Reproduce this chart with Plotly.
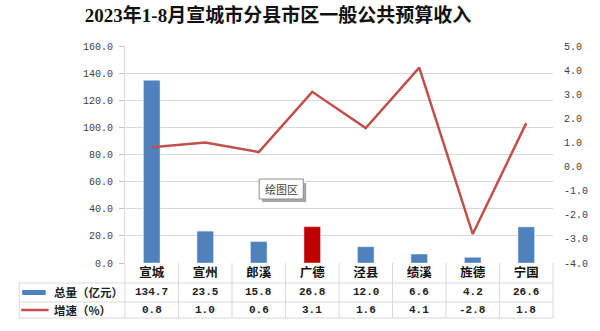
import plotly.graph_objects as go

categories = ["宣城", "宣州", "郎溪", "广德", "泾县", "绩溪", "旌德", "宁国"]
totals = [134.7, 23.5, 15.8, 26.8, 12.0, 6.6, 4.2, 26.6]
growth = [0.8, 1.0, 0.6, 3.1, 1.6, 4.1, -2.8, 1.8]
bar_colors = ["#4F81BD", "#4F81BD", "#4F81BD", "#C00000", "#4F81BD", "#4F81BD", "#4F81BD", "#4F81BD"]
left_ticks = [0, 20, 40, 60, 80, 100, 120, 140, 160]
right_ticks = [-4, -3, -2, -1, 0, 1, 2, 3, 4, 5]
title_text = "2023年1-8月宣城市分县市区一般公共预算收入"
row_labels = ["总量（亿元）", "增速（%）"]

W, H = 600, 331
L, R, T, B = 125, 38, 46, 68
PW, PH = W - L - R, H - T - B

def px_x(x):
    return (x - L) / PW

def px_y(y):
    return (H - B - y) / PH

def fmt(v):
    return f"{v:.1f}".replace("−", "-")

mono = "Liberation Mono, DejaVu Sans Mono, monospace"
cjk = "Noto Sans CJK SC"

fig = go.Figure()
fig.add_trace(go.Bar(x=categories, y=totals, marker_color=bar_colors, width=0.31,
                     name=row_labels[0], yaxis="y"))
fig.add_trace(go.Scatter(x=categories, y=growth, mode="lines", line=dict(color="#C0504D", width=2.5),
                         name=row_labels[1], yaxis="y2"))

annotations = []
shapes = []

# table values
row_y = [px_y(292), px_y(310)]
for vals, yy in zip([totals, growth], row_y):
    for c, v in zip(categories, vals):
        annotations.append(dict(x=c, y=yy, xref="x", yref="paper", text=fmt(v), showarrow=False,
                                font=dict(family=mono, size=11, color="#222", weight="bold"),
                                xanchor="center", yanchor="middle"))
# row labels
for lab, yy in zip(row_labels, row_y):
    annotations.append(dict(x=px_x(50), y=yy, xref="paper", yref="paper", text=lab, showarrow=False,
                            font=dict(family=cjk, size=11.5, color="#222", weight="bold"),
                            xanchor="left", yanchor="middle"))

# table grid
gc = "#D9D9D9"
n = len(categories)
for k in range(n + 1):
    shapes.append(dict(type="line", xref="paper", yref="paper", x0=k / n, x1=k / n,
                       y0=0, y1=px_y(318), line=dict(color=gc, width=1)))
for yy in [283, 302, 318]:
    shapes.append(dict(type="line", xref="paper", yref="paper", x0=px_x(17), x1=1,
                       y0=px_y(yy), y1=px_y(yy), line=dict(color=gc, width=1)))
shapes.append(dict(type="line", xref="paper", yref="paper", x0=px_x(17), x1=px_x(17),
                   y0=px_y(283), y1=px_y(318), line=dict(color=gc, width=1)))
# legend keys
shapes.append(dict(type="rect", xref="paper", yref="paper", x0=px_x(20), x1=px_x(44),
                   y0=px_y(290), y1=px_y(295), fillcolor="#4F81BD", line=dict(width=0)))
shapes.append(dict(type="line", xref="paper", yref="paper", x0=px_x(19), x1=px_x(47),
                   y0=px_y(310), y1=px_y(310), line=dict(color="#C0504D", width=2.5)))

# "绘图区" tooltip
shapes.append(dict(type="rect", xref="paper", yref="paper", x0=px_x(265), x1=px_x(310),
                   y0=px_y(202), y1=px_y(183), fillcolor="#A6A6A6", line=dict(width=0)))
shapes.append(dict(type="rect", xref="paper", yref="paper", x0=px_x(262), x1=px_x(307),
                   y0=px_y(199), y1=px_y(179), fillcolor="white", line=dict(color="#8C8C8C", width=1)))
annotations.append(dict(x=px_x(284.5), y=px_y(189), xref="paper", yref="paper", text="绘图区",
                        showarrow=False, font=dict(family=cjk, size=11, color="#404040"),
                        xanchor="center", yanchor="middle"))

fig.update_layout(
    width=W, height=H,
    margin=dict(l=L, r=R, t=T, b=B),
    paper_bgcolor="white", plot_bgcolor="white",
    showlegend=False,
    bargap=0.6,
    title=dict(text=title_text, x=278 / W, xanchor="center", y=1 - 15 / H, yanchor="middle",
               font=dict(family="Liberation Serif, " + cjk, size=19, color="#111", weight="bold")),
    xaxis=dict(type="category", showgrid=False, showline=False, ticks="",
               tickfont=dict(family=cjk, size=12.5, color="#111", weight="bold"),
               ticklabelstandoff=0),
    yaxis=dict(range=[0, 160], tickvals=left_ticks, ticktext=[fmt(v) for v in left_ticks],
               showgrid=True, gridcolor="#D9D9D9", gridwidth=1, zeroline=False,
               ticks="outside", ticklen=5, tickcolor="#BFBFBF", showline=True, linecolor="#D9D9D9",
               ticklabelstandoff=4,
               tickfont=dict(family=mono, size=10, color="#404040")),
    yaxis2=dict(range=[-4, 5], overlaying="y", side="right", tickvals=right_ticks,
                ticktext=[fmt(v) for v in right_ticks], showgrid=False, zeroline=False,
                showline=False, ticks="", ticklabelstandoff=10,
                tickfont=dict(family=mono, size=10, color="#404040")),
    annotations=annotations,
    shapes=shapes,
)

fig.write_html("out.html")
